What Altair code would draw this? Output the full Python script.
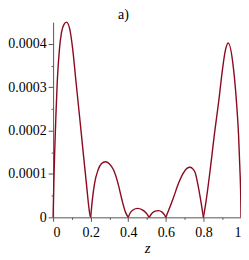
import altair as alt
import pandas as pd

# Readings from the reference (z, value in units of 1e-4), one list per arch
lobe1_z = [0.0, 0.004, 0.009, 0.015, 0.022, 0.034, 0.045, 0.058, 0.071, 0.088, 0.104, 0.122, 0.140, 0.158, 0.176, 0.196, 0.2]
lobe1_v = [0.0, 0.83, 1.59, 2.36, 3.12, 3.89, 4.27, 4.45, 4.50, 4.35, 3.89, 3.12, 2.36, 1.59, 0.83, 0.06, 0.0]
lobe2_z = [0.2, 0.209, 0.221, 0.239, 0.258, 0.278, 0.300, 0.322, 0.345, 0.366, 0.385, 0.4]
lobe2_v = [0.0, 0.41, 0.79, 1.09, 1.24, 1.28, 1.23, 1.09, 0.79, 0.41, 0.12, 0.0]
lobe3_z = [0.4, 0.41, 0.425, 0.45, 0.475, 0.495, 0.511]
lobe3_v = [0.0, 0.10, 0.17, 0.206, 0.17, 0.10, 0.0]
lobe4_z = [0.511, 0.522, 0.537, 0.561, 0.58, 0.592, 0.6]
lobe4_v = [0.0, 0.07, 0.13, 0.154, 0.12, 0.06, 0.0]
lobe5_z = [0.6, 0.637, 0.668, 0.693, 0.712, 0.729, 0.745, 0.757, 0.769, 0.785, 0.8]
lobe5_v = [0.0, 0.41, 0.79, 1.02, 1.13, 1.156, 1.11, 1.02, 0.79, 0.41, 0.0]
lobe6_z = [0.8, 0.814, 0.837, 0.858, 0.881, 0.902, 0.915, 0.932, 0.960, 0.976, 0.987, 0.994, 0.999, 1.0]
lobe6_v = [0.0, 0.37, 1.13, 1.90, 2.66, 3.43, 3.81, 4.02, 3.43, 2.66, 1.90, 1.13, 0.37, 0.0]

x_major = [0, 0.2, 0.4, 0.6, 0.8, 1.0]
x_minor = [0.1, 0.3, 0.5, 0.7, 0.9]
y_major = [0, 0.0001, 0.0002, 0.0003, 0.0004]
y_minor = [0.00005, 0.00015, 0.00025, 0.00035]
panel_title = ["a)"]

rows = []
for i, (zs, vs) in enumerate([(lobe1_z, lobe1_v), (lobe2_z, lobe2_v), (lobe3_z, lobe3_v),
                              (lobe4_z, lobe4_v), (lobe5_z, lobe5_v), (lobe6_z, lobe6_v)]):
    for z, v in zip(zs, vs):
        rows.append({"z": z, "v": v * 1e-4, "lobe": i})
df = pd.DataFrame(rows)

FONT = "Liberation Serif"
xscale = alt.Scale(domain=[0, 1], nice=False, zero=False)
yscale = alt.Scale(domain=[0, 0.00045], nice=False)

common = dict(domainColor="#555555", tickColor="#555555", grid=False,
              labelFont=FONT, labelFontSize=14, labelColor="black")

line = alt.Chart(df).mark_line(color="#8B0A1E", strokeWidth=1.4, interpolate="monotone").encode(
    x=alt.X("z:Q", scale=xscale,
            axis=alt.Axis(values=x_major, tickSize=4, labelPadding=4,
                          labelExpr="format(datum.value, '~g')",
                          title="z", titleFont=FONT, titleFontSize=15, titleFontStyle="italic",
                          titleFontWeight="normal", titleColor="black", titlePadding=1, **common)),
    y=alt.Y("v:Q", scale=yscale,
            axis=alt.Axis(values=y_major, tickSize=5, labelPadding=2,
                          labelExpr="format(datum.value, '~g')", title="", **common)),
    detail="lobe:N",
)

minor = alt.Chart(df).mark_line(opacity=0, interpolate="monotone").encode(
    x=alt.X("z:Q", scale=xscale,
            axis=alt.Axis(values=x_minor, tickSize=2, labels=False, domain=False, orient="bottom",
                          title="", grid=False, tickColor="#555555")),
    y=alt.Y("v:Q", scale=yscale,
            axis=alt.Axis(values=y_minor, tickSize=2, labels=False, domain=False, orient="left",
                          title="", grid=False, tickColor="#555555")),
    detail="lobe:N",
)

title_text = alt.Chart(pd.DataFrame({"t": panel_title})).mark_text(
    font=FONT, fontSize=14, align="center", baseline="alphabetic", color="black"
).encode(text="t:N", x=alt.value(70.7), y=alt.value(-3.5))

chart = alt.layer(line, minor, title_text).resolve_axis(x="independent", y="independent").properties(
    width=188.7,
    height=196,
    autosize=alt.AutoSizeParams(type="none"),
    padding={"left": 45.3, "top": 13.7, "right": 0, "bottom": 40},
).configure_view(stroke=None)

chart.save("out.html", embed_options={"renderer": "svg", "actions": False})
